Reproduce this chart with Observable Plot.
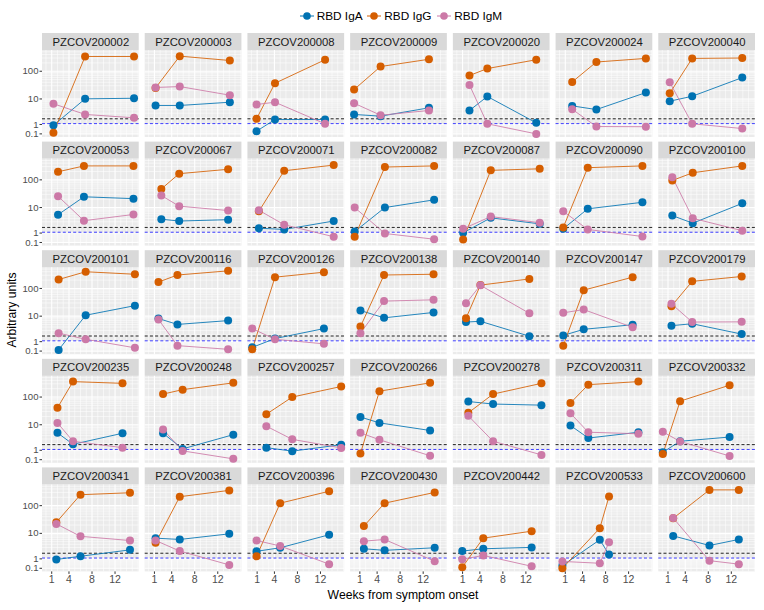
<!DOCTYPE html>
<html><head><meta charset="utf-8">
<script src="https://cdn.jsdelivr.net/npm/d3@7"></script>
<script src="https://cdn.jsdelivr.net/npm/@observablehq/plot@0.6"></script>
<style>
body{margin:0;background:#fff;font-family:"Liberation Sans",Arial,sans-serif;}
#wrap{position:relative;width:764px;height:610px;overflow:hidden;}
#legend{position:relative;height:28px;}
.li{position:absolute;top:8px;height:16px;display:flex;align-items:center;font-size:11.8px;color:#000;white-space:nowrap;}
.li svg{margin-right:3px;}
#xtitle{position:absolute;left:203px;width:400px;top:588px;text-align:center;font-size:12.2px;line-height:14px;color:#000;}
#ytitle{position:absolute;left:-88px;width:200px;top:303px;text-align:center;font-size:12.2px;line-height:14px;color:#000;transform:rotate(-90deg);}
</style></head><body>
<div id="wrap">
<div id="legend"></div>
<div id="chart"></div>
<div id="xtitle">Weeks from symptom onset</div>
<div id="ytitle">Arbitrary units</div>
</div>
<script>
const seriesNames = ["RBD IgA", "RBD IgG", "RBD IgM"];
const colors = ["#0072B2", "#D55E00", "#CC79A7"];
const patients = ["PZCOV200002","PZCOV200003","PZCOV200008","PZCOV200009","PZCOV200020","PZCOV200024","PZCOV200040",
"PZCOV200053","PZCOV200067","PZCOV200071","PZCOV200082","PZCOV200087","PZCOV200090","PZCOV200100",
"PZCOV200101","PZCOV200116","PZCOV200126","PZCOV200138","PZCOV200140","PZCOV200147","PZCOV200179",
"PZCOV200235","PZCOV200248","PZCOV200257","PZCOV200266","PZCOV200278","PZCOV200311","PZCOV200332",
"PZCOV200341","PZCOV200381","PZCOV200396","PZCOV200430","PZCOV200442","PZCOV200533","PZCOV200600"];
const weeks = [
[1.3,6.8,15.3],[1.2,5.4,14.1],[0.9,4.1,12.8],[0.0,4.6,13.0],[2.2,5.3,13.8],[2.2,6.4,15.0],[1.3,5.2,13.9],
[2.1,6.6,15.2],[2.2,5.3,13.8],[1.3,5.7,14.3],[0.1,5.35,13.9],[1.1,5.9,14.4],[0.65,4.9,14.4],[1.75,5.3,13.9],
[2.2,6.9,15.45],[1.7,5.0,13.8],[0.15,4.1,12.6],[1.1,5.2,13.8],[1.6,4.1,12.6],[0.65,4.2,12.7],[1.6,5.2,13.8],
[2.0,4.7,13.3],[2.5,5.9,14.7],[2.6,7.1,15.6],[1.1,4.4,13.2],[2.0,6.3,14.7],[1.9,5.0,13.7],[0.1,3.1,11.7],
[1.8,6.0,14.6],[1.2,5.4,14.0],[0.9,5.0,13.5],[1.7,5.3,14.0],[0.95,4.6,13.0],[0.5,7.0,8.6],[1.9,8.2,13.3]];
const iga = [
[0.9,10.1,10.6],[5.8,5.8,7.6],[0.33,1.68,1.68],[2.68,2.3,4.75],[3.78,12.3,1.2],[5.6,4.1,17],[8.3,12.5,59],
[5.5,24.5,21],[3.75,3.2,3.6],[1.67,1.48,3.2],[1.18,10,19],[1.03,4.2,2.5],[1.57,9.0,15.5],[5.1,2.65,14.2],
[0.2,10.8,24],[8.2,5.0,6.9],[0.42,1.4,3.5],[16,8.7,13.6],[6.1,6.5,1.77],[1.9,3.3,4.85],[4.5,5.3,2.15],
[5.1,1.85,4.9],[4.9,1.17,4.35],[1.33,0.9,1.78],[19,11.7,6.2],[69,56,51],[9.4,3.25,5.35],[0.78,2.45,3.55],
[0.93,1.33,2.45],[6.7,6.0,9.6],[2.15,2.95,8.9],[2.7,2.35,2.95],[2.2,2.7,3.05],[0.33,5.85,1.58],[8.1,3.6,6.0]];
const igg = [
[0.19,340,340],[25,350,244],[1.8,37,260],[21.9,148,270],[70,125,260],[41,215,290],[16,290,300],
[195,318,318],[47,167,240],[7.3,213,340],[0.61,290,318],[0.36,220,250],[1.8,275,318],[95,180,318],
[210,400,325],[170,305,430],[0.25,255,385],[4.15,305,325],[8.4,132,220],[0.58,87,255],[23,180,270],
[41,360,312],[128,185,325],[24,100,240],[0.65,163,325],[27,128,312],[61,280,360],[0.6,71,268],
[25,248,292],[4.5,210,355],[1.33,123,330],[18.3,123,300],[0.19,6.7,12],[0.1,15.4,215],[35,370,370]];
const igm = [
[6.7,2.68,1.98],[26,28,13.7],[6.3,7.6,1.08],[7.0,2.5,3.78],[32,1.08,0.1],[4.2,0.77,0.75],[40,1.08,0.57],
[25.7,3.3,5.6],[27.3,11.2,7.8],[8.0,2.3,0.61],[10,0.95,0.38],[1.57,4.7,2.77],[7.3,1.48,0.63],[125,4.05,1.3],
[2.35,1.3,0.38],[7.6,0.58,0.25],[3.5,1.3,0.76],[2.35,35,39],[29,130,12.7],[13.2,17.3,3.9],[28,6.1,6.2],
[11.7,2.45,1.33],[6.75,0.93,0.17],[8.9,2.9,1.3],[5.1,2.8,0.44],[21,2.45,0.52],[26,5.35,4.7],[5.55,2.4,0.42],
[22,7.8,5.5],[5.5,2.2,0.39],[5.5,3.45,0.46],[5.2,6.0,0.74],[0.95,1.45,0.27],[0.72,0.54,4.75],[36,0.8,0.46]];
const yTicks = [0.1, 1, 10, 100];
const yTickLabels = ["0.1", "1", "10", "100"];
const yMinor = [0.2,0.3,0.4,0.5,0.6,0.7,0.8,0.9,2,3,4,5,6,7,8,9,20,30,40,50,60,70,80,90,200,300,400,500];
const xTicks = [1, 4, 8, 12];
const xMinor = [0,2,3,5,6,7,9,10,11,13,14,15,16];
const thresholds = [1.8, 1.1];

const nCol = 7;
const series = [iga, igg, igm];
const data = [];
patients.forEach((p, i) => {
  const col = i % nCol, row = Math.floor(i / nCol);
  seriesNames.forEach((s, k) => {
    weeks[i].forEach((w, j) => data.push({patient: p, col, row, series: s, week: w, value: series[k][i][j]}));
  });
});
const panels = patients.map((p, i) => ({patient: p, col: i % nCol, row: Math.floor(i / nCol)}));

// legend
const legend = document.getElementById("legend");
const keyX = [306.7, 374.3, 444.3];
seriesNames.forEach((s, k) => {
  const d = document.createElement("div");
  d.className = "li";
  d.style.left = (keyX[k] - 7) + "px";
  d.innerHTML = `<svg width="14" height="16"><line x1="0" x2="14" y1="8" y2="8" stroke="${colors[k]}" stroke-width="1"/><circle cx="7" cy="8" r="3.8" fill="${colors[k]}"/></svg><span>${s}</span>`;
  legend.appendChild(d);
});

const panelH = 87;
const chart = Plot.plot({
  width: 764, height: 582,
  marginLeft: 42, marginRight: 9, marginTop: 22, marginBottom: 38.6,
  style: {fontFamily: '"Liberation Sans", Arial, sans-serif', fontSize: "10.5px", color: "#4D4D4D", background: "white", overflow: "visible"},
  fx: {domain: d3.range(7), paddingInner: 0.0584, paddingOuter: 0, round: false, axis: null},
  fy: {domain: d3.range(5), paddingInner: 0.199, paddingOuter: 0, round: false, axis: null},
  x: {domain: [-0.6, 16.2]},
  y: {transform: Math.asinh, domain: [-0.2, 7.02]},
  color: {domain: seriesNames, range: colors},
  marks: [
    Plot.rect(panels, {fx: "col", fy: "row", fill: "#EBEBEB"}),
    Plot.rect(panels, {fx: "col", fy: "row", fill: "#D9D9D9", insetTop: -17, insetBottom: panelH}),
    Plot.text(panels, {fx: "col", fy: "row", text: "patient", frameAnchor: "top", lineAnchor: "middle", dy: -8.5, fontSize: 11.3, fill: "#1A1A1A"}),
    Plot.ruleX(xMinor, {stroke: "white", strokeWidth: 0.55}),
    Plot.ruleY(yMinor, {stroke: "white", strokeWidth: 0.55}),
    Plot.ruleX(xTicks, {stroke: "white", strokeWidth: 1.1}),
    Plot.ruleY(yTicks, {stroke: "white", strokeWidth: 1.1}),
    Plot.ruleY([thresholds[0]], {stroke: "#222", strokeWidth: 1, strokeDasharray: "3,2.2"}),
    Plot.ruleY([thresholds[1]], {stroke: "#3b3bff", strokeWidth: 1, strokeDasharray: "3,2.2"}),
    Plot.line(data, {fx: "col", fy: "row", x: "week", y: "value", z: "series", stroke: "series", strokeWidth: 0.85}),
    Plot.dot(data, {fx: "col", fy: "row", x: "week", y: "value", fill: "series", r: 4}),
    Plot.axisY({ticks: yTicks.map(Math.asinh), tickFormat: d => {
      const v = Math.sinh(d);
      const i = yTicks.findIndex(t => Math.abs(t - v) < 1e-6 * Math.max(1, t));
      return i >= 0 ? yTickLabels[i] : "";
    }, tickSize: 2.5, tickPadding: 1.5, fontSize: 9.6, label: null, stroke: "#333"}),
    Plot.axisX({ticks: xTicks, tickSize: 2.5, tickPadding: 1.5, fontSize: 10.5, label: null, stroke: "#333"})
  ]
});
document.getElementById("chart").appendChild(chart);
</script>
</body></html>
